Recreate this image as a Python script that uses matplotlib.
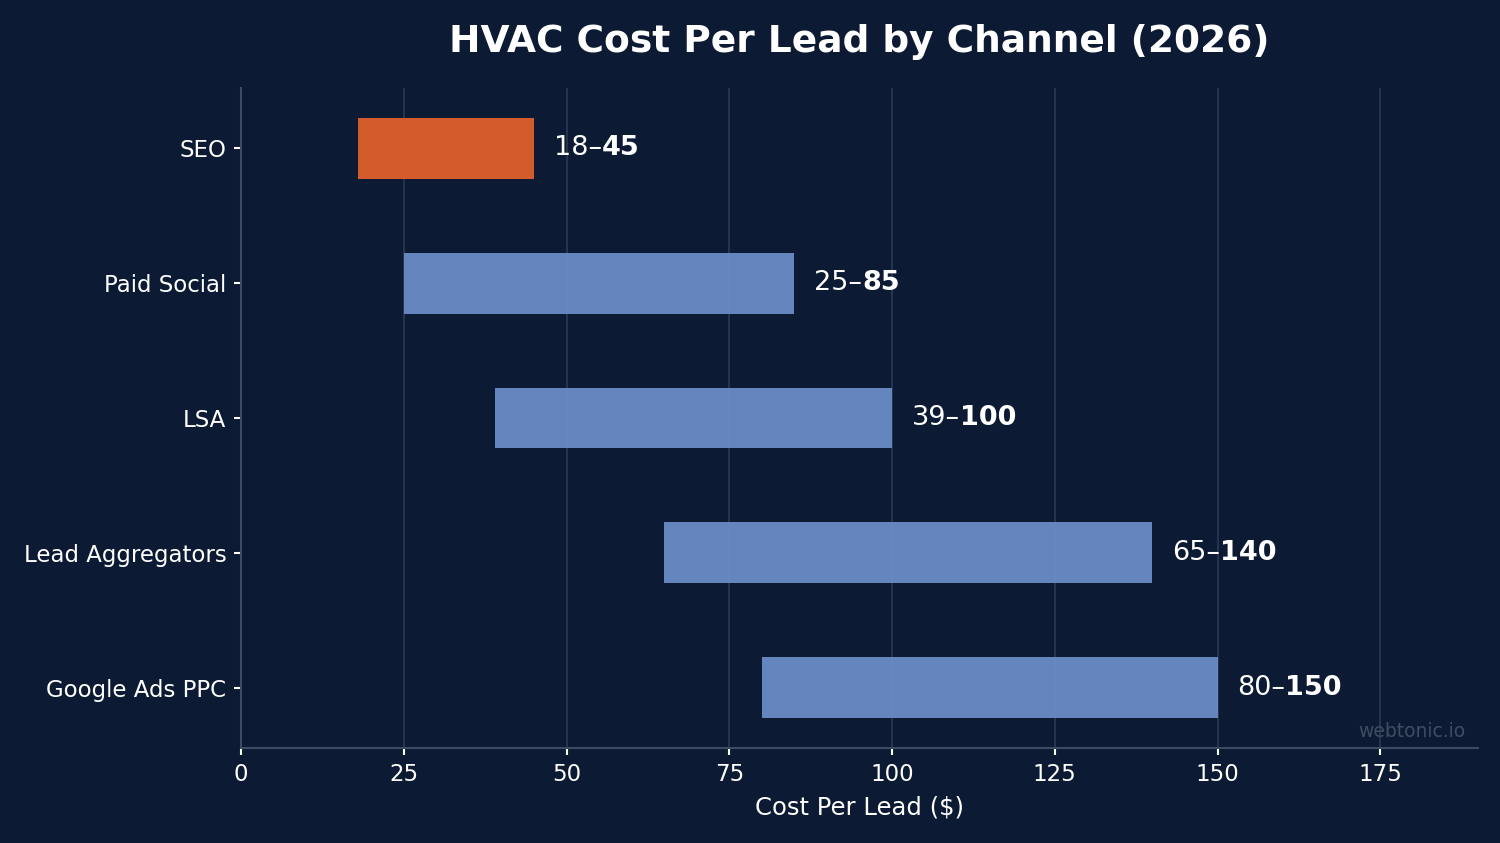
import matplotlib
matplotlib.use("Agg")
import matplotlib.pyplot as plt

# Data
channels = ["SEO", "Paid Social", "LSA", "Lead Aggregators", "Google Ads PPC"]
low = [18, 25, 39, 65, 80]
high = [45, 85, 100, 140, 150]
highlight = ["SEO"]

bg = "#0c1b33"
orange = "#e05f2b"
blue = "#6a8cc6"

fig = plt.figure(figsize=(15, 8.43), dpi=100, facecolor=bg)
ax = fig.add_axes([0.1607, 0.1127, 0.8246, 0.7829], facecolor=bg)

ypos = list(range(len(channels)))
colors = [orange if c in highlight else blue for c in channels]
widths = [h - l for l, h in zip(low, high)]
ax.barh(ypos, widths, left=low, height=0.45, color=colors, alpha=0.95, zorder=3)

for y, l, h in zip(ypos, low, high):
    t = ax.text(h + 3, y, f"{l}–", color="white", fontsize=19.5, va="center", ha="left", zorder=4)
    ax.annotate(f"{h}", xy=(1, 0), xycoords=t, color="white", fontsize=19.5,
                fontweight="bold", va="bottom", ha="left", zorder=4)

ax.set_yticks(ypos)
ax.set_yticklabels(channels)
ax.invert_yaxis()
ax.set_xlim(0, 190)
ax.set_xticks([0, 25, 50, 75, 100, 125, 150, 175])

ax.grid(axis="x", color="#27374f", linewidth=1.3, zorder=0)
ax.set_axisbelow(True)
for s in ["top", "right"]:
    ax.spines[s].set_visible(False)
for s in ["left", "bottom"]:
    ax.spines[s].set_color("#3c4b63")
    ax.spines[s].set_linewidth(1.5)

ax.tick_params(colors="white", labelsize=16.5, length=5, width=1.5, pad=5.5)
ax.set_xlabel("Cost Per Lead ($)", color="white", fontsize=17.5, labelpad=7)
ax.set_title("HVAC Cost Per Lead by Channel (2026)", color="white", fontsize=27,
             fontweight="bold", pad=26)

ax.text(0.99, 0.01, "webtonic.io", transform=ax.transAxes, color="#3f4d63",
        fontsize=13.5, ha="right", va="bottom")

fig.savefig("out.png", dpi=100, facecolor=bg)
